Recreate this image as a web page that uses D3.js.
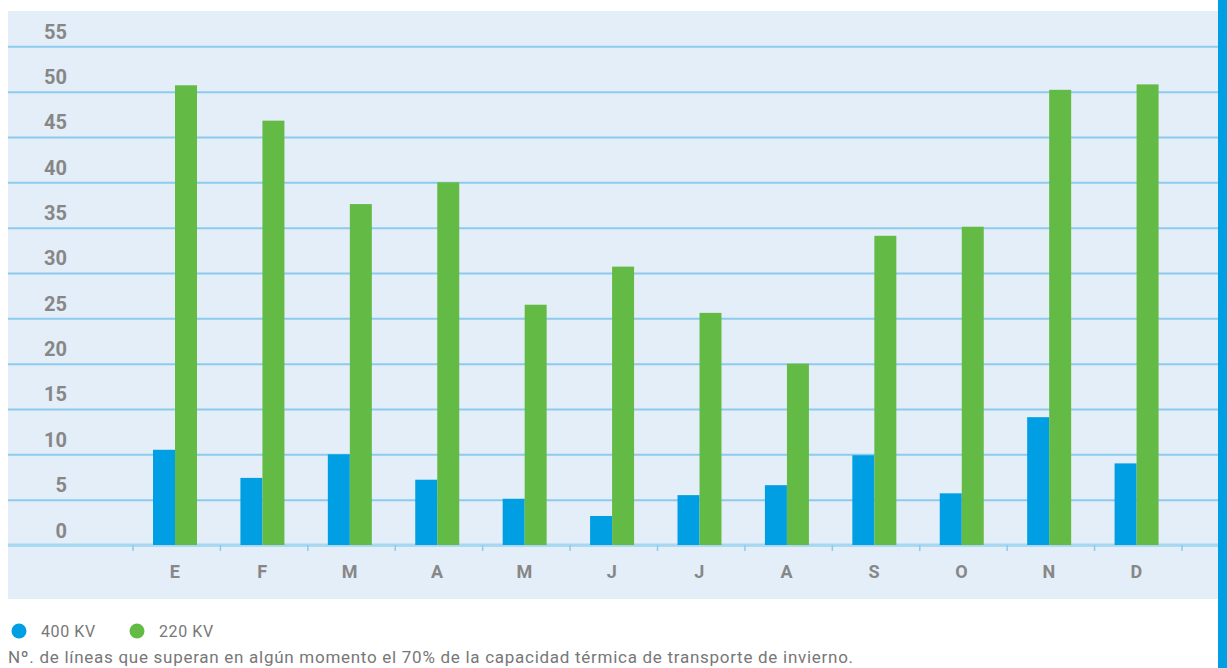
<!DOCTYPE html>
<html>
<head>
<meta charset="utf-8">
<script src="https://cdn.jsdelivr.net/npm/d3@7"></script>
<style>
  body { margin: 0; background: #fff; }
  svg { display: block; }
</style>
</head>
<body>
<div id="chart"></div>
<script>
// data
var months = ["E", "F", "M", "A", "M", "J", "J", "A", "S", "O", "N", "D"];
var kv400 = [10.5, 7.4, 10.0, 7.2, 5.1, 3.2, 5.5, 6.6, 9.9, 5.7, 14.1, 9.0];
var kv220 = [50.7, 46.8, 37.6, 40.0, 26.5, 30.7, 25.6, 20.0, 34.1, 35.1, 50.2, 50.8];
var yTicks = [0, 5, 10, 15, 20, 25, 30, 35, 40, 45, 50, 55];
var seriesNames = ["400 KV", "220 KV"];
var seriesColors = ["#009fe3", "#63bb46"];
var caption = "Nº. de líneas que superan en algún momento el 70% de la capacidad térmica de transporte de invierno.";

var W = 1227, H = 668;

var svg = d3.select("#chart")
  .append("svg")
    .attr("width", W)
    .attr("height", H);

// panel background + blue edge on the right
svg.append("rect")
  .attr("x", 8).attr("y", 11)
  .attr("width", 1210).attr("height", 588)
  .attr("fill", "#e4eef8");
svg.append("rect")
  .attr("x", 1218).attr("y", 0)
  .attr("width", 9).attr("height", H)
  .attr("fill", "#009fe3");

// scales
var x = d3.scaleBand()
  .domain(d3.range(months.length))
  .range([133, 1182])
  .paddingInner(0).paddingOuter(0);

var xSub = d3.scaleBand()
  .domain([0, 1])
  .range([20, 64]);

var y = d3.scaleLinear()
  .domain([0, 55])
  .range([545, 46.3]);

// Y axis: gridlines + labels above each line
var yAxis = svg.append("g")
  .attr("transform", "translate(8,0)")
  .call(d3.axisLeft(y).tickValues(yTicks).tickSize(-1210).tickPadding(0));
yAxis.select(".domain").remove();
yAxis.selectAll(".tick line")
  .attr("stroke", "#8ccbee")
  .attr("stroke-width", 2);
yAxis.selectAll(".tick text")
  .attr("x", 59)
  .attr("dy", "-8px")
  .attr("text-anchor", "end")
  .attr("fill", "#878787")
  .style("font-family", "Roboto, sans-serif")
  .style("font-weight", "700")
  .style("font-size", "20px");

// X axis: baseline, ticks at band edges, month labels
svg.append("line")
  .attr("x1", 8).attr("x2", 1218)
  .attr("y1", y(0)).attr("y2", y(0))
  .attr("stroke", "#a6d8f2").attr("stroke-width", 3);

var edges = months.map(function (m, i) { return x(i); }).concat([x.range()[1]]);
svg.append("g")
  .selectAll("line")
  .data(edges)
  .enter()
  .append("line")
    .attr("x1", function (d) { return d; })
    .attr("x2", function (d) { return d; })
    .attr("y1", y(0))
    .attr("y2", y(0) + 6)
    .attr("stroke", "#8ccbee")
    .attr("stroke-width", 1.5);

var xAxis = svg.append("g")
  .attr("transform", "translate(-2," + y(0) + ")")
  .call(d3.axisBottom(x).tickSize(0).tickPadding(20).tickFormat(function (i) { return months[i]; }));
xAxis.select(".domain").remove();
xAxis.selectAll(".tick text")
  .attr("fill", "#878787")
  .style("font-family", "Roboto, sans-serif")
  .style("font-weight", "700")
  .style("font-size", "18px");

// bars
var rows = months.map(function (m, i) { return { i: i, vals: [kv400[i], kv220[i]] }; });

var groups = svg.append("g")
  .selectAll("g")
  .data(rows)
  .enter()
  .append("g")
    .attr("transform", function (d) { return "translate(" + x(d.i) + ",0)"; });

groups.selectAll("rect")
  .data(function (d) { return d.vals.map(function (v, k) { return { k: k, v: v }; }); })
  .enter()
  .append("rect")
    .attr("x", function (d) { return xSub(d.k); })
    .attr("width", xSub.bandwidth())
    .attr("y", function (d) { return y(d.v); })
    .attr("height", function (d) { return y(0) - y(d.v); })
    .attr("fill", function (d) { return seriesColors[d.k]; });

// legend
var legendX = [19, 137];
var legend = svg.append("g")
  .selectAll("g")
  .data(seriesNames)
  .enter()
  .append("g")
    .attr("transform", function (d, i) { return "translate(" + legendX[i] + ",631)"; });
legend.append("circle")
  .attr("r", 7.5)
  .attr("fill", function (d, i) { return seriesColors[i]; });
legend.append("text")
  .attr("x", 22)
  .attr("y", 6)
  .attr("fill", "#777")
  .style("font-family", "Roboto, sans-serif")
  .style("font-size", "16px")
  .style("letter-spacing", "0.6px")
  .text(function (d) { return d; });

// caption
svg.append("text")
  .attr("x", 8)
  .attr("y", 663)
  .attr("fill", "#777")
  .style("font-family", "Roboto, sans-serif")
  .style("font-size", "17px")
  .style("letter-spacing", "0.72px")
  .text(caption);
</script>
</body>
</html>
